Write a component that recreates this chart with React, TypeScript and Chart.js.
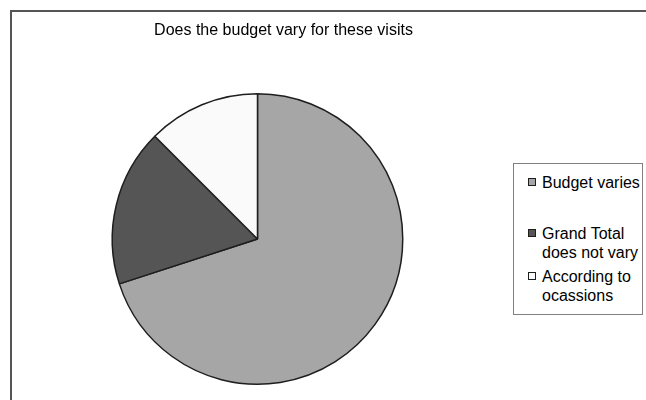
import React, { useEffect, useRef } from "react";
import { Chart, registerables } from "chart.js";

Chart.register(...registerables);

const titleText = "Does the budget vary for these visits";
const categories: string[][] = [
  ["Budget varies"],
  ["Grand Total", "does not vary"],
  ["According to", "ocassions"],
];
const values: number[] = [56, 14, 10];
const sliceColors: string[] = ["#a6a6a6", "#555555", "#fafafa"];
const legendGaps: number[] = [9, 32, 5];

const FONT = "'Liberation Sans', Arial, sans-serif";

export default function App() {
  const canvasRef = useRef<HTMLCanvasElement | null>(null);

  useEffect(() => {
    if (!canvasRef.current) return;
    const chart = new Chart(canvasRef.current, {
      type: "pie",
      data: {
        labels: categories,
        datasets: [
          {
            data: values,
            backgroundColor: sliceColors,
            borderColor: "#1e1e1e",
            borderWidth: 1.5,
          },
        ],
      },
      options: {
        responsive: false,
        animation: false,
        devicePixelRatio: 1,
        rotation: 0,
        layout: { padding: { left: 111.5, right: 242.5, top: 93, bottom: 15 } },
        plugins: {
          legend: { display: false },
          title: { display: false },
          tooltip: { enabled: false },
        },
      },
    });
    return () => chart.destroy();
  }, []);

  return (
    <div
      style={{
        position: "absolute",
        left: 0,
        top: 0,
        width: 646,
        height: 400,
        overflow: "hidden",
        background: "#ffffff",
        fontFamily: FONT,
      }}
    >
      <div
        style={{
          position: "absolute",
          left: 10,
          top: 10,
          width: 800,
          height: 600,
          borderTop: "2px solid #555555",
          borderLeft: "2px solid #555555",
        }}
      />
      <canvas
        ref={canvasRef}
        width={646}
        height={400}
        style={{ position: "absolute", left: 0, top: 0, width: 646, height: 400 }}
      />
      <div
        style={{
          position: "absolute",
          left: 0,
          top: 20,
          width: 567,
          textAlign: "center",
          fontSize: 16,
          lineHeight: "19px",
          color: "#000",
        }}
      >
        {titleText}
      </div>
      <div
        style={{
          position: "absolute",
          left: 513,
          top: 163,
          width: 128,
          height: 150,
          border: "1px solid #808080",
          background: "#ffffff",
          boxSizing: "content-box",
        }}
      >
        {categories.map((lines, i) => (
          <div
            key={i}
            style={{
              position: "relative",
              marginTop: legendGaps[i],
              paddingLeft: 28,
              fontSize: 16,
              lineHeight: "19px",
              color: "#000",
              whiteSpace: "nowrap",
            }}
          >
            <span
              style={{
                position: "absolute",
                left: 14,
                top: 5,
                width: 6,
                height: 6,
                border: "1px solid #1e1e1e",
                background: sliceColors[i],
              }}
            />
            {lines.map((l, j) => (
              <div key={j}>{l}</div>
            ))}
          </div>
        ))}
      </div>
    </div>
  );
}
